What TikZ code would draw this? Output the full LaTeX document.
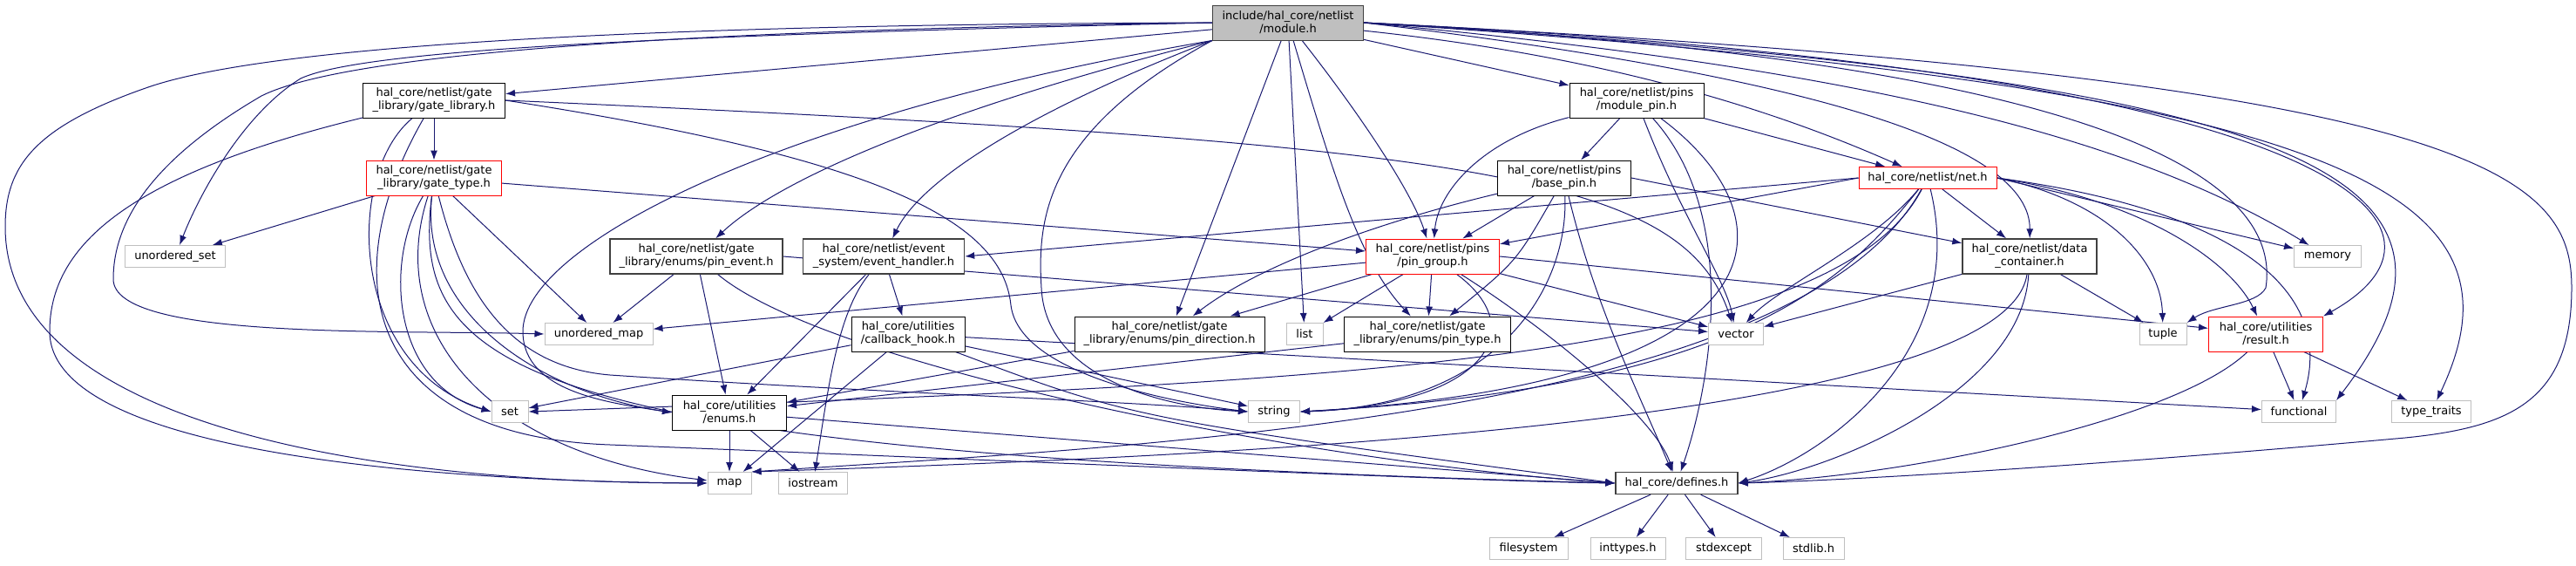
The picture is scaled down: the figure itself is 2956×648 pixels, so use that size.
\documentclass[tikz,border=0pt]{standalone}
\usepackage{fontspec}
\usepackage{tikz}
\usetikzlibrary{arrows.meta}
\newfontfamily\dvs{DejaVu Sans}
\definecolor{medge}{RGB}{25,25,112}
\definecolor{mred}{RGB}{255,0,0}
\definecolor{lgrey}{RGB}{191,191,191}
\definecolor{dgrey}{RGB}{64,64,64}
\pgfdeclarelayer{bg}
\pgfdeclarelayer{edges}
\pgfsetlayers{bg,edges,main}
\tikzset{hdr/.style = {draw=black, line width=1pt, fill=white, inner sep=0pt,
                       align=center, font=\dvs\fontsize{13}{15}\selectfont,
                       minimum height=40pt},
         hdrone/.style = {hdr, minimum height=25pt},
         sys/.style = {hdrone, draw=lgrey},
         nodoc/.style = {hdr, draw=dgrey, line width=1.4pt},
         trunc/.style = {hdr, draw=mred},
         dep/.style = {draw=medge, line width=1pt,
                       -{Latex[length=11pt,width=8pt]}}}

\begin{document}
\begin{tikzpicture}[x=1pt, y=-1pt]
    \begin{pgfonlayer}{bg}
      \fill [white] (0,0) rectangle (2956,648);
    \end{pgfonlayer}
    \useasboundingbox (0,0) rectangle (2956,648);
    % header files
    \node [hdr, fill=lgrey, draw=dgrey, minimum width=173pt] (module) at (1478,26)
        {include/hal\_core/netlist\\/module.h};
    \node [hdr, minimum width=163pt] (gatelib) at (498,115)
        {hal\_core/netlist/gate\\\_library/gate\_library.h};
    \node [trunc, minimum width=155pt] (gatetype) at (498,204)
        {hal\_core/netlist/gate\\\_library/gate\_type.h};
    \node [nodoc, minimum width=198pt] (pinevent) at (799,294)
        {hal\_core/netlist/gate\\\_library/enums/pin\_event.h};
    \node [nodoc, minimum width=185pt] (evhandler) at (1014,294)
        {hal\_core/netlist/event\\\_system/event\_handler.h};
    \node [hdr, minimum width=154pt] (modpin) at (1878,115)
        {hal\_core/netlist/pins\\/module\_pin.h};
    \node [hdr, minimum width=153pt] (basepin) at (1795,204)
        {hal\_core/netlist/pins\\/base\_pin.h};
    \node [trunc, minimum width=153pt] (pingroup) at (1644,294)
        {hal\_core/netlist/pins\\/pin\_group.h};
    \node [trunc, hdrone, draw=mred, minimum width=158pt] (net) at (2212,204)
        {hal\_core/netlist/net.h};
    \node [nodoc, minimum width=154pt] (datacont) at (2329,294)
        {hal\_core/netlist/data\\\_container.h};
    \node [hdr, minimum width=130pt] (cbhook) at (1042,383)
        {hal\_core/utilities\\/callback\_hook.h};
    \node [hdr, minimum width=131pt] (enums) at (837,473)
        {hal\_core/utilities\\/enums.h};
    \node [hdr, minimum width=218pt] (pindir) at (1342,383)
        {hal\_core/netlist/gate\\\_library/enums/pin\_direction.h};
    \node [hdr, minimum width=191pt] (pintype) at (1638,383)
        {hal\_core/netlist/gate\\\_library/enums/pin\_type.h};
    \node [trunc, minimum width=131pt] (result) at (2600,383)
        {hal\_core/utilities\\/result.h};
    \node [nodoc, minimum height=25pt, minimum width=140pt] (defines) at (1924,554)
        {hal\_core/defines.h};
    % system headers
    \node [sys, minimum width=115pt] (uset) at (201,294) {unordered\_set};
    \node [sys, minimum width=77pt] (memory) at (2671,294) {memory};
    \node [sys, minimum width=124pt] (umap) at (687,383) {unordered\_map};
    \node [sys, minimum width=42pt] (list) at (1497,383) {list};
    \node [sys, minimum width=63pt] (vector) at (1992,383) {vector};
    \node [sys, minimum width=54pt] (tuple) at (2482,383) {tuple};
    \node [sys, minimum width=42pt] (set) at (585,472) {set};
    \node [sys, minimum width=59pt] (string) at (1462,472) {string};
    \node [sys, minimum width=85pt] (functional) at (2638,472) {functional};
    \node [sys, minimum width=91pt] (typetraits) at (2790,472) {type\_traits};
    \node [sys, minimum width=50pt] (map) at (837,554) {map};
    \node [sys, minimum width=79pt] (iostream) at (933,554) {iostream};
    \node [sys, minimum width=90pt] (filesystem) at (1754,629) {filesystem};
    \node [sys, minimum width=86pt] (inttypes) at (1868,629) {inttypes.h};
    \node [sys, minimum width=87pt] (stdexcept) at (1978,629) {stdexcept};
    \node [sys, minimum width=70pt] (stdlib) at (2081,629) {stdlib.h};

    \begin{pgfonlayer}{edges}
    % module.h
    \draw [dep] (module) -- (gatelib);
    \draw [dep] (module) -- (modpin);
    \draw [dep] (module.west) .. controls (800,40) and (420,55) .. (345,90)
                .. controls (280,130) and (230,220) .. (uset);
    \draw [dep] (module.west) .. controls (700,28) and (300,55) .. (170,100)
                .. controls (40,145) and (6,190) .. (6,260)
                .. controls (6,480) and (400,554) .. (map.west);
    \draw [dep] (module.west) .. controls (800,34) and (400,60) .. (300,110)
                .. controls (180,180) and (130,250) .. (130,320)
                .. controls (130,390) and (450,378) .. (umap.west);
    \draw [dep] (module.south west) .. controls (900,130) and (600,280) .. (600,380)
                .. controls (600,450) and (700,462) .. (enums.west);
    \draw [dep] (module.south west) .. controls (1100,120) and (900,200) .. (pinevent);
    \draw [dep] (module.south west) .. controls (1200,120) and (1060,200) .. (evhandler);
    \draw [dep] (module) -- (pindir);
    \draw [dep] (module) -- (list);
    \draw [dep] (module) .. controls (1530,200) and (1560,300) .. (pintype);
    \draw [dep] (module) .. controls (1560,130) and (1620,220) .. (pingroup);
    \draw [dep] (module.south west) .. controls (1200,150) and (1190,250) .. (1195,330)
                .. controls (1200,440) and (1350,468) .. (string.west);
    \draw [dep] (module) .. controls (1800,60) and (2000,110) .. (net);
    \draw [dep] (module.east) .. controls (2100,90) and (2330,170) .. (datacont);
    \draw [dep] (module.east) .. controls (2150,80) and (2450,160) .. (memory);
    \draw [dep] (module.east) .. controls (2400,70) and (2620,200) .. (2600,330)
                .. controls (2590,350) and (2540,350) .. (tuple.north east);
    \draw [dep] (module.east) .. controls (2700,80) and (2850,260) .. (result.north east);
    \draw [dep] (module.east) .. controls (2650,90) and (2880,200) .. (functional.north east);
    \draw [dep] (module.east) .. controls (2700,100) and (2910,220) .. (typetraits);
    \draw [dep] (module.east) .. controls (2850,90) and (2951,200) .. (2951,330)
                .. controls (2951,460) and (2880,490) .. (2760,502)
                .. controls (2450,530) and (2150,550) .. (defines.east);
    % gate_library.h
    \draw [dep] (gatelib) -- (gatetype);
    \draw [dep] (gatelib.east) .. controls (1700,165) and (1930,200) .. (vector);
    \draw [dep] (gatelib.east) .. controls (1000,180) and (1150,250) .. (1160,350)
                .. controls (1170,430) and (1350,462) .. (string.west);
    \draw [dep] (gatelib) .. controls (150,200) and (57,280) .. (57,380)
                .. controls (57,520) and (500,552) .. (map.west);
    \draw [dep] (gatelib) .. controls (395,200) and (400,420) .. (set.west);
    \draw [dep] (gatelib) .. controls (380,320) and (420,500) .. (700,510)
                .. controls (1200,530) and (1700,552) .. (defines.west);
    % gate_type.h
    \draw [dep] (gatetype) -- (uset);
    \draw [dep] (gatetype) -- (pingroup);
    \draw [dep] (gatetype) -- (umap);
    \draw [dep] (gatetype) .. controls (440,300) and (450,440) .. (set.west);
    \draw [dep] (gatetype) .. controls (440,380) and (560,520) .. (map);
    \draw [dep] (gatetype) .. controls (480,360) and (620,450) .. (enums.west);
    \draw [dep] (gatetype) .. controls (530,330) and (580,420) .. (700,430)
                .. controls (1000,450) and (1300,460) .. (string.west);
    \draw [dep] (gatetype) .. controls (470,430) and (600,520) .. (defines.west);
    % pin_event.h
    \draw [dep] (pinevent) -- (umap);
    \draw [dep] (pinevent) -- (enums);
    \draw [dep] (pinevent) .. controls (950,420) and (1500,530) .. (defines.west);
    \draw [dep] (pinevent.east) -- (vector);
    % event_handler.h
    \draw [dep] (evhandler) -- (cbhook);
    \draw [dep] (evhandler) -- (enums);
    \draw [dep] (evhandler) .. controls (960,360) and (950,450) .. (iostream);
    % callback_hook.h
    \draw [dep] (cbhook) -- (set);
    \draw [dep] (cbhook) -- (map);
    \draw [dep] (cbhook) -- (string);
    \draw [dep] (cbhook) -- (functional);
    \draw [dep] (cbhook) .. controls (1300,480) .. (defines.west);
    % enums.h
    \draw [dep] (enums) -- (map);
    \draw [dep] (enums) -- (iostream);
    \draw [dep] (enums) -- (defines.west);
    \draw [dep] (pindir) -- (enums);
    \draw [dep] (pintype) -- (enums);
    % pin_group.h
    \draw [dep] (pingroup) -- (pindir);
    \draw [dep] (pingroup) -- (list);
    \draw [dep] (pingroup) -- (pintype);
    \draw [dep] (pingroup) -- (umap);
    \draw [dep] (pingroup) -- (vector);
    \draw [dep] (pingroup) .. controls (1760,380) and (1700,465) .. (string.east);
    \draw [dep] (pingroup) .. controls (1780,380) and (1900,480) .. (defines);
    \draw [dep] (pingroup.east) -- (result);
    % base_pin.h
    \draw [dep] (basepin) -- (pingroup);
    \draw [dep] (basepin) .. controls (1600,250) and (1450,300) .. (pindir);
    \draw [dep] (basepin) .. controls (1740,300) .. (pintype);
    \draw [dep] (basepin) .. controls (1800,330) and (1720,465) .. (string.east);
    \draw [dep] (basepin) .. controls (1830,350) and (1880,450) .. (defines);
    \draw [dep] (basepin.east) -- (datacont);
    % module_pin.h
    \draw [dep] (modpin) -- (basepin);
    \draw [dep] (modpin) .. controls (1700,160) and (1650,220) .. (pingroup);
    \draw [dep] (modpin) -- (net);
    \draw [dep] (modpin) .. controls (1930,250) and (1980,320) .. (vector);
    \draw [dep] (modpin) .. controls (2060,250) and (2060,440) .. (string.east);
    \draw [dep] (modpin) .. controls (2000,250) and (1960,450) .. (defines);
    % net.h
    \draw [dep] (net.west) -- (evhandler.east);
    \draw [dep] (net.west) -- (pingroup);
    \draw [dep] (net) -- (datacont);
    \draw [dep] (net.east) -- (memory);
    \draw [dep] (net.east) .. controls (2420,230) and (2480,300) .. (tuple);
    \draw [dep] (net.east) .. controls (2460,230) and (2560,300) .. (result);
    \draw [dep] (net.east) .. controls (2560,240) and (2680,330) .. (functional);
    \draw [dep] (net) .. controls (2150,280) and (2040,330) .. (vector);
    \draw [dep] (net) .. controls (2120,320) and (2000,445) .. (string.east);
    \draw [dep] (net) .. controls (2100,420) and (1500,440) .. (set.east);
    \draw [dep] (net) .. controls (2060,480) and (1300,512) .. (map.north east);
    \draw [dep] (net) .. controls (2260,400) and (2100,520) .. (defines.east);
    % data_container.h
    \draw [dep] (datacont) -- (vector);
    \draw [dep] (datacont) -- (tuple);
    \draw [dep] (datacont) .. controls (2300,490) and (1350,525) .. (map.north east);
    \draw [dep] (datacont) .. controls (2320,450) and (2100,540) .. (defines.east);
    % result.h
    \draw [dep] (result) -- (functional);
    \draw [dep] (result) -- (typetraits);
    \draw [dep] (result) .. controls (2500,480) and (2200,545) .. (defines.east);
    % defines.h
    \draw [dep] (defines) -- (filesystem);
    \draw [dep] (defines) -- (inttypes);
    \draw [dep] (defines) -- (stdexcept);
    \draw [dep] (defines) -- (stdlib);
    \end{pgfonlayer}
\end{tikzpicture}
\end{document}
